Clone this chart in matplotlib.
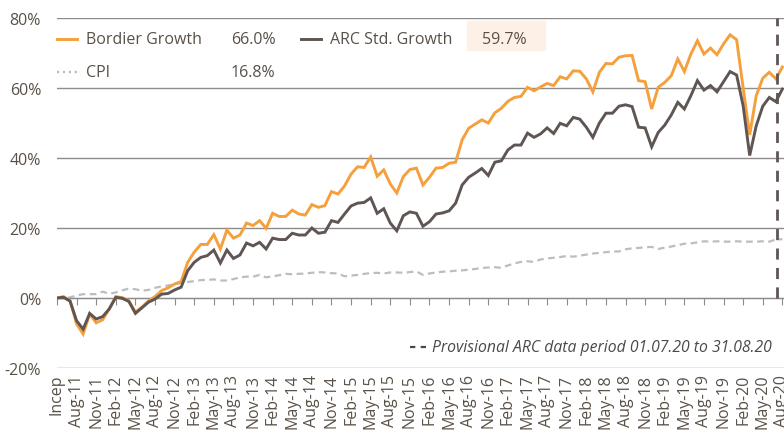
import numpy as np
import matplotlib.pyplot as plt
from matplotlib.patches import Rectangle
from matplotlib.lines import Line2D

plt.rcParams['font.family'] = ['Open Sans', 'DejaVu Sans']

# monthly cumulative growth (%) since inception (May-11) to Aug-20
bordier = [0.0, 0.4, -0.8, -7.4, -10.3, -4.6, -7.1, -6.2, -3.1, 0.4,
           0.1, -0.8, -4.0, -2.6, -0.8, 0.4, 2.1, 2.9, 4.0, 4.7,
           10.2, 13.1, 15.3, 15.3, 18.1, 14.0, 19.4, 17.1, 18.0, 21.4,
           20.7, 22.1, 19.9, 24.2, 23.3, 23.3, 25.1, 24.0, 23.7, 26.7,
           25.9, 26.4, 30.4, 29.7, 32.0, 35.4, 37.5, 37.3, 40.3, 34.8,
           36.6, 32.6, 30.0, 34.7, 36.7, 37.1, 32.3, 34.5, 37.1, 37.3,
           38.5, 38.8, 45.2, 48.5, 49.7, 50.9, 50.0, 52.9, 54.2, 56.2,
           57.3, 57.6, 60.2, 59.2, 60.3, 61.3, 60.7, 63.2, 62.6, 64.9,
           64.8, 62.6, 58.9, 64.5, 67.0, 66.9, 68.8, 69.2, 69.3, 62.1,
           61.8, 54.0, 60.2, 61.6, 63.5, 68.3, 64.7, 69.7, 73.5, 69.7,
           71.4, 69.5, 72.6, 75.2, 73.8, 60.0, 46.6, 57.8, 62.8, 64.5,
           62.6, 66.0]
arc = [0.0, 0.2, -0.9, -6.5, -8.9, -4.4, -6.0, -5.3, -3.1, 0.2,
       -0.1, -1.0, -4.4, -2.8, -1.2, -0.3, 1.1, 1.3, 2.3, 3.1,
       7.8, 10.2, 11.6, 12.1, 13.7, 10.0, 13.7, 11.3, 12.3, 15.7,
       14.9, 15.9, 14.0, 17.1, 16.7, 16.7, 18.5, 18.0, 18.0, 20.0,
       18.5, 18.8, 22.1, 21.6, 24.0, 26.3, 27.1, 27.3, 28.6, 24.2,
       25.5, 21.4, 19.2, 23.5, 24.6, 24.2, 20.5, 21.8, 24.0, 24.3,
       24.9, 27.1, 32.3, 34.5, 35.7, 37.0, 35.0, 38.8, 39.2, 42.3,
       43.7, 43.7, 47.1, 45.9, 46.9, 48.6, 47.0, 49.9, 49.2, 51.6,
       51.1, 48.8, 45.9, 50.0, 52.8, 52.8, 54.8, 55.2, 54.7, 48.8,
       48.6, 43.2, 47.3, 49.4, 52.3, 55.9, 54.0, 57.8, 62.1, 59.4,
       60.7, 58.9, 61.8, 64.7, 63.7, 54.9, 40.7, 49.2, 54.8, 57.3,
       56.1, 59.7]
cpi = [0.0, -0.2, 0.2, 0.7, 1.1, 1.1, 1.1, 1.8, 1.2, 1.6,
       2.2, 2.7, 2.5, 2.1, 2.3, 2.9, 3.3, 3.6, 3.9, 4.3,
       4.6, 4.8, 5.1, 5.2, 5.3, 5.0, 5.0, 5.4, 5.9, 6.1,
       6.1, 6.6, 5.9, 6.2, 6.5, 6.9, 6.8, 6.9, 7.0, 7.2,
       7.4, 7.3, 7.1, 7.0, 6.2, 6.4, 6.6, 6.9, 7.1, 7.2,
       7.0, 7.3, 7.3, 7.2, 7.4, 7.6, 6.6, 7.0, 7.3, 7.5,
       7.6, 7.8, 7.9, 8.1, 8.3, 8.6, 8.7, 8.8, 8.6, 9.3,
       9.9, 10.3, 10.5, 10.3, 11.0, 11.3, 11.5, 11.7, 12.0, 11.8,
       12.1, 12.4, 12.7, 12.9, 13.1, 13.3, 13.3, 13.9, 14.2, 14.3,
       14.5, 14.6, 14.0, 14.4, 14.7, 15.1, 15.5, 15.6, 15.9, 16.2,
       16.1, 16.2, 16.1, 16.1, 16.2, 16.1, 16.1, 16.1, 16.2, 16.1,
       16.7, 16.8]

tick_labels = ["Incep", "Aug-11", "Nov-11", "Feb-12", "May-12", "Aug-12", "Nov-12",
               "Feb-13", "May-13", "Aug-13", "Nov-13", "Feb-14", "May-14", "Aug-14",
               "Nov-14", "Feb-15", "May-15", "Aug-15", "Nov-15", "Feb-16", "May-16",
               "Aug-16", "Nov-16", "Feb-17", "May-17", "Aug-17", "Nov-17", "Feb-18",
               "May-18", "Aug-18", "Nov-18", "Feb-19", "May-19", "Aug-19", "Nov-19",
               "Feb-20", "May-20", "Aug-20"]
tick_pos = np.arange(0, len(bordier), 3)

names = ["Bordier Growth", "ARC Std. Growth", "CPI"]
final_vals = ["66.0%", "59.7%", "16.8%"]

c_orange = '#F5A03C'
c_dark = '#5F5553'
c_cpi = '#BDBDBD'
c_text = '#595147'
c_grid = '#8C8C8C'
fs = 11.5

x = np.arange(len(bordier))

fig = plt.figure(figsize=(7.84, 4.39), dpi=100)
ax = fig.add_axes([57/784, 70/439, 727/784, 350/439])

for v in [-20, 0, 20, 40, 60, 80]:
    ax.axhline(v, color=c_grid, lw=1, zorder=1)

ax.plot(x, cpi, color=c_cpi, lw=1.6, ls=(0, (3, 2)), zorder=2)
ax.plot(x, bordier, color=c_orange, lw=2.1, zorder=3, solid_joinstyle='miter')
ax.plot(x, arc, color=c_dark, lw=2.1, zorder=4, solid_joinstyle='miter')

ax.plot([110.2, 110.2], [0, 80], color=c_dark, lw=2, ls=(0, (4, 3)), zorder=5)

ax.set_xlim(0, 111.25)
ax.set_ylim(-20, 80)
ax.set_yticks([-20, 0, 20, 40, 60, 80])
ax.set_yticklabels(['%d%%' % v for v in [-20, 0, 20, 40, 60, 80]])
ax.tick_params(axis='y', length=0, pad=11.5, labelsize=fs, labelcolor=c_text)

for s in ['top', 'right', 'left']:
    ax.spines[s].set_visible(False)
ax.spines['bottom'].set_position(('data', 0))
ax.spines['bottom'].set_color(c_grid)
ax.set_xticks(tick_pos)
ax.tick_params(axis='x', length=5, color=c_grid, labelbottom=False)

sec = ax.secondary_xaxis('bottom')
sec.set_xticks(tick_pos)
sec.set_xticklabels(tick_labels, rotation=90)
sec.tick_params(length=0, pad=4, labelsize=fs, labelcolor=c_text)
sec.spines['bottom'].set_visible(False)

# legend drawn by hand
def px(xp, yp):
    return xp / 784, 1 - yp / 439

fig.patches.append(Rectangle(px(467, 51), 78/784, 29/439, transform=fig.transFigure,
                             color='#FDF1E7', zorder=0))
legend_rows = [(c_orange, '-', 86, 40), (c_dark, '-', 330, 40), (c_cpi, ':', 86, 73)]
for (col, ls, tx, ty), name in zip(legend_rows, names):
    x0, y0 = px(tx - 29, ty)
    x1, _ = px(tx - 9, ty)
    fig.add_artist(Line2D([x0, x1], [y0, y0], color=col, lw=2.1 if ls == '-' else 1.6,
                          ls=ls, transform=fig.transFigure))
    fig.text(*px(tx, ty), name, ha='left', va='center', fontsize=fs, color=c_text)
fig.text(*px(231, 40), final_vals[0], ha='left', va='center', fontsize=fs, color=c_text)
fig.text(*px(482, 40), final_vals[1], ha='left', va='center', fontsize=fs, color=c_text)
fig.text(*px(231, 73), final_vals[2], ha='left', va='center', fontsize=fs, color=c_text)

fig.text(*px(772, 348), 'Provisional ARC data period 01.07.20 to 31.08.20', ha='right',
         va='center', fontsize=11.3, style='italic', color='#4A4A4A')
x0, y0 = px(410, 348)
x1, _ = px(426, 348)
fig.add_artist(Line2D([x0, x1], [y0, y0], color='#4A4A4A', lw=1.6, ls=(0, (2.4, 2.4)),
                      transform=fig.transFigure))

fig.savefig('out.png', dpi=100)
